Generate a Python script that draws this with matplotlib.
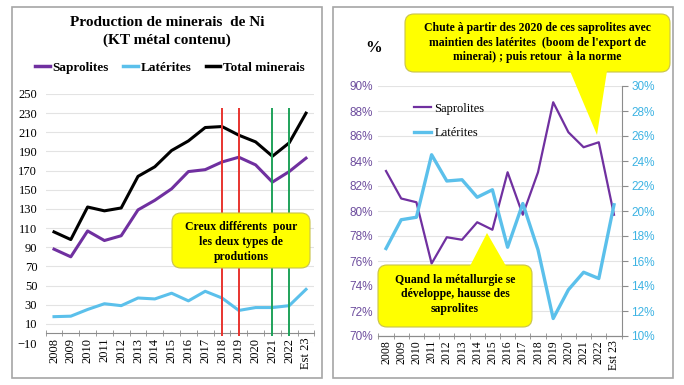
import numpy as np
import matplotlib.pyplot as plt
from matplotlib.patches import FancyBboxPatch, Polygon, Rectangle
from matplotlib.transforms import IdentityTransform
from matplotlib.lines import Line2D
from matplotlib.ticker import FuncFormatter

years = ['2008', '2009', '2010', '2011', '2012', '2013', '2014', '2015',
         '2016', '2017', '2018', '2019', '2020', '2021', '2022', 'Est 23']
saprolites = [88, 80, 107, 97, 102, 129, 139, 151, 169, 171, 179, 184, 176, 158, 169, 183]
laterites = [17.5, 18, 25, 31, 29, 37, 36, 42, 34, 44, 37, 24, 27, 27, 29, 46]
total = [106, 98, 132, 128, 131, 164, 174, 191, 201, 215, 216, 207, 200, 185, 199, 230]

sap_pct = [83.2, 81.0, 80.7, 75.8, 77.9, 77.7, 79.1, 78.5, 83.1, 79.7, 83.1, 88.7, 86.3, 85.1, 85.5, 79.7]
lat_pct = [17.0, 19.3, 19.5, 24.5, 22.4, 22.5, 21.1, 21.7, 17.1, 20.6, 16.9, 11.4, 13.7, 15.1, 14.6, 20.5]

red_years = ['2018', '2019']
green_years = ['2021', '2022']

PURPLE = '#7030A0'
BLUE = '#5BC0EB'
YELLOW = '#FFFF00'
SERIF = ['Liberation Serif', 'DejaVu Serif']

W, H = 684, 385
fig = plt.figure(figsize=(W / 100, H / 100), dpi=100)
PIX = IdentityTransform()


def fx(px):
    return px / W


def fy(py):
    return 1 - py / H


def pt(x, y):
    return (x, H - y)


def panel(x0, y0, x1, y1):
    fig.add_artist(Rectangle(pt(x0, y1), x1 - x0, y1 - y0, transform=PIX,
                             fill=False, ec='#a6a6a6', lw=1.2))


def callout(x0, y0, x1, y1, lines, size, pointer=None):
    box = FancyBboxPatch(pt(x0, y1), x1 - x0, y1 - y0,
                         boxstyle='round,pad=0,rounding_size=9',
                         transform=PIX, fc=YELLOW, ec='#c9c24a', lw=0.8, zorder=10)
    fig.add_artist(box)
    if pointer is not None:
        tri = Polygon([pt(*p) for p in pointer], closed=True, transform=PIX,
                      fc=YELLOW, ec='none', zorder=11)
        fig.add_artist(tri)
    cx = (x0 + x1) / 2
    for text, y in lines:
        fig.text(*pt(cx, y), text, transform=PIX, ha='center', va='center',
                 fontsize=size, fontweight='bold', family=SERIF, zorder=12)


x = np.arange(len(years))

# ---- left panel
panel(12, 7, 322, 378)
ax1 = fig.add_axes([fx(45.6), fy(343), 268.8 / W, 249 / H])
ax1.plot(x, saprolites, color=PURPLE, lw=2.2, zorder=3)
ax1.plot(x, laterites, color=BLUE, lw=2.2, zorder=3)
ax1.plot(x, total, color='black', lw=2.2, zorder=3)
ax1.vlines([years.index(y) for y in red_years], -3, 235, color='#E8342F', lw=1.4, zorder=4)
ax1.vlines([years.index(y) for y in green_years], -3, 235, color='#1FA25A', lw=1.4, zorder=4)

ax1.set_xlim(-0.5, 15.5)
ax1.set_ylim(-10, 250)
ax1.set_yticks(range(-10, 251, 20))
ax1.yaxis.grid(True, color='#e3e3e3', lw=0.8)
ax1.set_axisbelow(True)
for s in ['left', 'right', 'top']:
    ax1.spines[s].set_visible(False)
ax1.spines['bottom'].set_position(('data', 0))
ax1.spines['bottom'].set_color('#8c8c8c')
ax1.set_xticks(x)
ax1.set_xticklabels(years, rotation=90, family=SERIF, fontsize=9)
ax1.set_xticks(np.arange(-0.5, 16, 1), minor=True)
ax1.tick_params(axis='x', which='major', length=0, pad=3)
ax1.tick_params(axis='x', which='minor', length=4, direction='inout', color='#8c8c8c')
ax1.tick_params(axis='y', length=0, labelsize=9, pad=6)
for lab in ax1.get_yticklabels():
    lab.set_family(SERIF)

fig.text(fx(167), fy(22), 'Production de minerais  de Ni', ha='center', va='center',
         fontsize=11, fontweight='bold', family=SERIF)
fig.text(fx(167), fy(40), '(KT métal contenu)', ha='center', va='center',
         fontsize=11, fontweight='bold', family=SERIF)
handles = [Line2D([], [], color=c, lw=2.5) for c in (PURPLE, BLUE, 'black')]
ax1.legend(handles, ['Saprolites', 'Latérites', 'Total minerais'], loc='center',
           bbox_to_anchor=(fx(170), fy(68)), bbox_transform=fig.transFigure, ncol=3,
           frameon=False, handlelength=1.1, handletextpad=0.2, columnspacing=1.1,
           prop={'family': SERIF, 'weight': 'bold', 'size': 9.5})

callout(172, 213, 310, 268,
        [('Creux différents  pour', 227), ('les deux types de', 242), ('produtions', 257)], 8.5)

# ---- right panel
panel(333, 7, 673, 378)
ax2 = fig.add_axes([fx(378.4), fy(336), 243.2 / W, 250 / H])
ax3 = ax2.twinx()
ax2.plot(x, sap_pct, color=PURPLE, lw=1.6)
ax3.plot(x, lat_pct, color=BLUE, lw=2.4)
ax2.set_xlim(-0.5, 15.5)
ax2.set_ylim(70, 90)
ax3.set_ylim(10, 30)
ax2.set_yticks(range(70, 91, 2))
ax3.set_yticks(range(10, 31, 2))
pct = FuncFormatter(lambda v, p: f'{v:.0f}%')
ax2.yaxis.set_major_formatter(pct)
ax3.yaxis.set_major_formatter(pct)
ax2.yaxis.grid(True, color='#e3e3e3', lw=0.8)
ax2.set_axisbelow(True)
for a in (ax2, ax3):
    for s in ['left', 'top']:
        a.spines[s].set_visible(False)
    a.spines['bottom'].set_color('#8c8c8c')
ax2.spines['right'].set_visible(False)
ax3.spines['right'].set_color('#8c8c8c')
ax2.tick_params(axis='y', length=0, labelsize=8.5, labelcolor='#6E4E9E', pad=4)
ax3.tick_params(axis='y', length=4, color='#8c8c8c', labelsize=8.5, labelcolor='#3DB3E3', pad=3)
for lab in ax2.get_yticklabels() + ax3.get_yticklabels():
    lab.set_family(['Liberation Sans', 'DejaVu Sans'])
ax2.set_xticks(x)
ax2.set_xticklabels(years, rotation=90, family=SERIF, fontsize=8.5)
ax2.set_xticks(np.arange(-0.5, 16, 1), minor=True)
ax2.tick_params(axis='x', which='major', length=0, pad=3)
ax2.tick_params(axis='x', which='minor', length=4, direction='inout', color='#8c8c8c')

fig.text(fx(374), fy(48), '%', ha='center', va='center', fontsize=12,
         fontweight='bold', family=SERIF)
h2 = [Line2D([], [], color=PURPLE, lw=1.6), Line2D([], [], color=BLUE, lw=2.4)]
ax3.legend(h2, ['Saprolites', 'Latérites'], loc='center left',
           bbox_to_anchor=(fx(403), fy(121)), bbox_transform=fig.transFigure,
           frameon=False, handlelength=1.3, handletextpad=0.3, labelspacing=1.0,
           prop={'family': SERIF, 'size': 9})

callout(405, 14, 670, 72,
        [("Chute à partir des 2020 de ces saprolites avec", 28),
         ("maintien des latérites  (boom de l'export de", 43),
         ("minerai) ; puis retour  à la norme", 57)], 8.5,
        pointer=[(570, 71), (607, 71), (597, 135)])
callout(378, 265, 532, 327,
        [('Quand la métallurgie se', 280), ('développe, hausse des', 294),
         ('saprolites', 309)], 8.5,
        pointer=[(470, 266), (506, 266), (487, 233)])

fig.savefig('out.png', dpi=100)
